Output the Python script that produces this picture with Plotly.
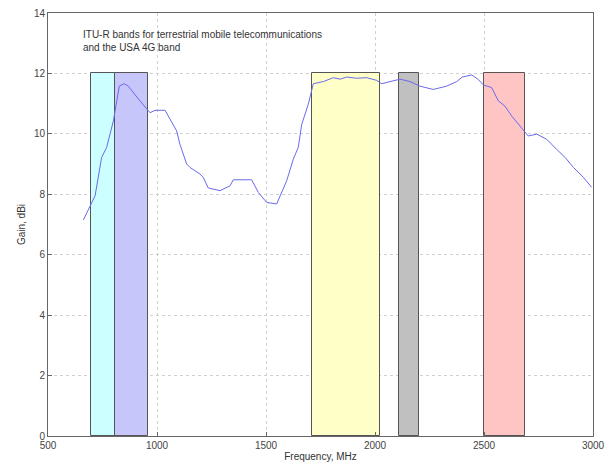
import plotly.graph_objects as go

# Frequency bands (MHz)
band_lo = [698, 806, 1710, 2110, 2500]
band_hi = [806, 960, 2025, 2200, 2690]
band_top = [12, 12, 12, 12, 12]
band_colors = ["#ccffff", "#c6c6fa", "#ffffc8", "#c0c0c0", "#ffc4c4"]

# Antenna gain curve
freq = [662, 716, 746, 769, 800, 827, 849, 868, 922, 968, 991, 1037, 1090, 1105,
        1136, 1151, 1197, 1212, 1235, 1289, 1335, 1350, 1434, 1465, 1503, 1549,
        1595, 1625, 1648, 1664, 1694, 1717, 1763, 1809, 1840, 1870, 1916, 1962,
        2008, 2031, 2069, 2115, 2161, 2206, 2267, 2329, 2375, 2400, 2444, 2474,
        2497, 2535, 2566, 2596, 2627, 2665, 2703, 2742, 2788, 2833, 2872, 2910,
        2956, 2994]
gain = [7.15, 7.95, 9.22, 9.55, 10.43, 11.58, 11.66, 11.58, 11.09, 10.70, 10.78,
        10.78, 10.1, 9.66, 9.0, 8.89, 8.67, 8.56, 8.21, 8.12, 8.28, 8.48, 8.48,
        8.06, 7.73, 7.68, 8.45, 9.16, 9.55, 10.32, 10.98, 11.66, 11.73, 11.86,
        11.81, 11.88, 11.84, 11.86, 11.77, 11.66, 11.73, 11.81, 11.73, 11.58,
        11.47, 11.58, 11.73, 11.88, 11.95, 11.8, 11.62, 11.53, 11.09, 10.92,
        10.59, 10.26, 9.93, 9.99, 9.82, 9.49, 9.22, 8.89, 8.56, 8.23]

x_ticks = [500, 1000, 1500, 2000, 2500, 3000]
y_ticks = [0, 2, 4, 6, 8, 10, 12, 14]

FONT = "Arial, Liberation Sans, sans-serif"

fig = go.Figure()
fig.add_trace(go.Bar(
    x=[(a + b) / 2 for a, b in zip(band_lo, band_hi)],
    y=band_top,
    width=[b - a for a, b in zip(band_lo, band_hi)],
    marker=dict(color=band_colors, line=dict(color="#555555", width=1)),
    showlegend=False, hoverinfo="skip",
))
fig.add_trace(go.Scatter(
    x=freq, y=gain, mode="lines",
    line=dict(color="#6a6aee", width=1),
    showlegend=False,
))

fig.add_annotation(
    x=650, y=13.55, xref="x", yref="y", xanchor="left", yanchor="top",
    text="ITU-R bands for terrestrial mobile telecommunications<br>and the USA 4G band",
    showarrow=False, align="left",
    font=dict(family=FONT, size=10, color="#333333"),
)

axis_common = dict(
    showline=True, linecolor="#666666", linewidth=1, mirror=True,
    showgrid=True, gridcolor="#d0d0d0", griddash="dot", gridwidth=1,
    ticks="inside", ticklen=4, tickcolor="#666666",
    tickfont=dict(family=FONT, size=10, color="#444444"),
    zeroline=False, automargin=False,
)
fig.update_xaxes(range=[500, 3000], tickvals=x_ticks,
                 title=dict(text="Frequency, MHz", standoff=2,
                            font=dict(family=FONT, size=10, color="#333333")),
                 **axis_common)
fig.update_yaxes(range=[0, 14], tickvals=y_ticks,
                 title=dict(text="Gain, dBi", standoff=6,
                            font=dict(family=FONT, size=10, color="#333333")),
                 **axis_common)

fig.update_layout(
    width=608, height=473,
    margin=dict(l=48, r=15, t=13, b=37),
    plot_bgcolor="white", paper_bgcolor="white",
    bargap=0,
)
fig.write_html("out.html", config={"displayModeBar": False},
               post_script="document.body.style.margin='0';document.body.style.overflow='hidden';")
